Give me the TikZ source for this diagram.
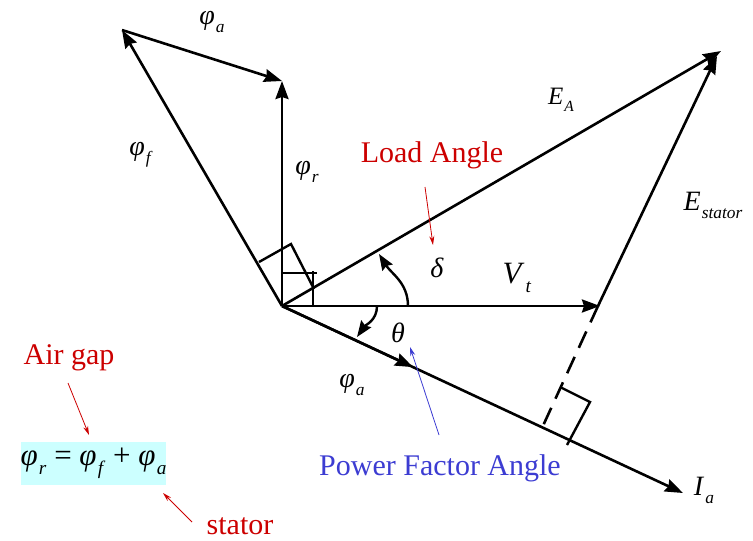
\documentclass[tikz,border=0pt]{standalone}
\usepackage{fontspec}
\setmainfont{LiberationSerif}[
  Extension=.ttf,
  UprightFont=*-Regular,
  ItalicFont=*-Italic,
  BoldFont=*-Bold,
  BoldItalicFont=*-BoldItalic]
\usetikzlibrary{arrows.meta, calc}
\definecolor{lblred}{RGB}{204,0,0}
\definecolor{lblblue}{RGB}{60,60,210}
\definecolor{eqcyan}{RGB}{204,255,255}
\newcommand{\qsub}[2]{\textit{#1}\kern0.04em\raisebox{-0.28em}{\scalebox{0.62}{\textit{#2}}}}

\begin{document}
\begin{tikzpicture}[
  x=1pt, y=-1pt,
  vec/.style={line width=2.6pt, -{Stealth[length=18pt, width=13pt, inset=2pt]}},
  turn/.style={line width=2.4pt, -{Stealth[length=16pt, width=12pt, inset=2pt]}},
  rightmark/.style={line width=2.4pt},
  dashline/.style={line width=2.6pt, dash pattern=on 18pt off 10pt},
  pointer/.style={line width=0.8pt, -{Stealth[length=9pt, width=5pt]}},
  sym/.style={font=\fontsize{28}{30}\selectfont, inner sep=0pt},
  lbl/.style={font=\fontsize{30}{32}\selectfont, inner sep=0pt},
]
\useasboundingbox (0,0) rectangle (753,541);

% phasor end points
\coordinate (O)    at (282,306);
\coordinate (vt)   at (600,306);
\coordinate (ea)   at (721,51);
\coordinate (es)   at (598,306);
\coordinate (est)  at (717,56);
\coordinate (ia)   at (683,493);
\coordinate (foot) at (542,428);
\coordinate (phf)  at (122,30);
\coordinate (phr)  at (282,81);

\draw[vec] (O) -- (vt);
\draw[vec] (O) -- (ea);
\draw[vec] (es) -- (est);
\draw[vec] (O) -- (ia);
\draw[vec] (O) -- ($(O)!0.327!(ia)$);
\draw[vec] (O) -- (phf);
\draw[vec] (phf) -- (phr);
\draw[vec] (O) -- (phr);
\draw[dashline] (es) -- (foot);

% right angle marks
\draw[rightmark] (282,273) -- (317,273);
\draw[rightmark] (313,271) -- (313,306);
\draw[rightmark] (259,262) -- (291,244) -- (314,289);
\draw[rightmark] (560,387) -- (590,402) -- (567,445);

% angle arcs
\draw[turn] (408,306) to[out=90, in=-58] (379,254);
\draw[turn] (377,306) to[out=-90, in=55] (357,337);

% labels
\node[sym] (laba)  at (212,22)  {\qsub{φ}{a}};
\node[sym] (labf)  at (141,155) {\qsub{φ}{f}};
\node[sym] (labr)  at (307,172) {\qsub{φ}{r}};
\node[sym] (labea) at (561,100) {\fontsize{25}{27}\selectfont\qsub{E}{A}};
\node[sym] (labes) at (713,205) {\qsub{E}{stator}};
\node[sym] (labd)  at (437,268) {\textit{δ}};
\node[sym] (labv)  at (517,278) {\fontsize{31}{33}\selectfont\qsub{V}{t}};
\node[sym] (labt)  at (398,333) {\textit{θ}};
\node[sym] (labpa) at (352,385) {\qsub{φ}{a}};
\node[sym] (labi)  at (704,490) {\qsub{I}{a}};

\node[lbl, text=lblred] (load) at (432,155) {Load Angle};
\draw[pointer, draw=lblred, lblred] (425,187) -- (433,245);

\node[lbl, text=lblblue] (pfa) at (440,468) {Power Factor Angle};
\draw[pointer, draw=lblblue, lblblue] (439,435) -- (410,347);

\node[lbl, text=lblred] (air) at (69,358) {Air gap};
\node[fill=eqcyan, minimum width=141pt, minimum height=43pt, inner sep=0pt,
      font=\fontsize{31}{33}\selectfont] (eq) at (93.5,463)
      {\qsub{φ}{r} = \qsub{φ}{f} + \qsub{φ}{a}};
\draw[pointer, draw=lblred, lblred] (68,383) -- (89,435);

\node[lbl, text=lblred] (stat) at (240,526) {stator};
\draw[pointer, draw=lblred, lblred] (192,522) -- (163,493);
\end{tikzpicture}
\end{document}
